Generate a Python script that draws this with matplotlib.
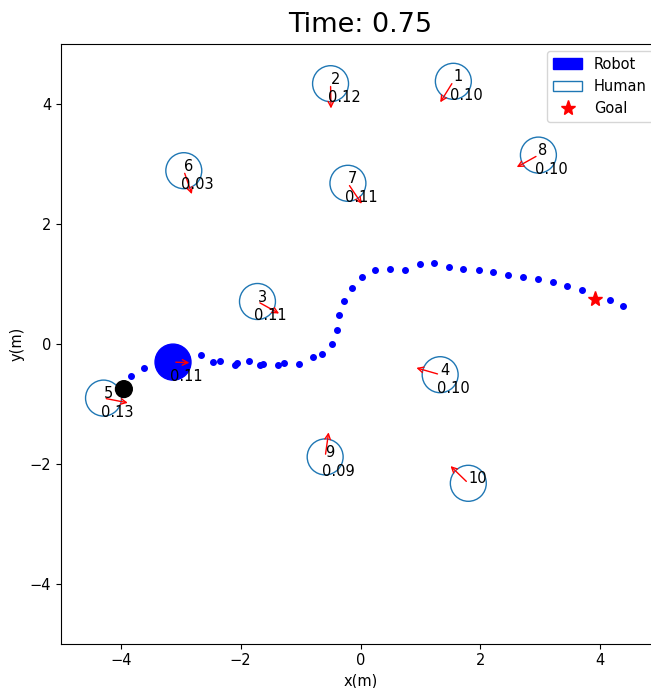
import numpy as np
import matplotlib
matplotlib.use("Agg")
import matplotlib.pyplot as plt
import matplotlib.patches as patches
import matplotlib.lines as mlines

# ── Scene state at t = 0.75 ───────────────────────────────────────────────────
TIME = 0.75

human_x = [1.55, -0.50, -1.72, 1.33, -4.29, -2.95, -0.21, 2.97, -0.59, 1.80]
human_y = [4.37, 4.33, 0.70, -0.52, -0.91, 2.88, 2.67, 3.14, -1.89, -2.33]
human_heading = [-122, -89, -29, 164, -11, -71, -56, -151, 82, 136]   # deg
human_speed = ["0.10", "0.12", "0.11", "0.10", "0.13", "0.03", "0.11", "0.10", "0.09", None]

robot_x, robot_y = -3.13, -0.31
robot_heading = -2
robot_speed = "0.11"

start_x, start_y = -3.95, -0.76
goal_x, goal_y = 3.92, 0.75

path_x = [-3.83, -3.61, -2.66, -2.46, -2.35, -2.10, -2.06, -1.86, -1.67, -1.62,
          -1.37, -1.27, -1.02, -0.80, -0.65, -0.47, -0.385, -0.36, -0.27, -0.15,
          0.02, 0.25, 0.50, 0.75, 0.99, 1.23, 1.48, 1.71, 1.97, 2.22,
          2.47, 2.72, 2.96, 3.21, 3.45, 3.69, 4.17, 4.39]
path_y = [-0.54, -0.41, -0.19, -0.30, -0.29, -0.35, -0.33, -0.29, -0.36, -0.34,
          -0.36, -0.33, -0.34, -0.22, -0.18, -0.01, 0.23, 0.48, 0.71, 0.93,
          1.11, 1.23, 1.25, 1.23, 1.32, 1.34, 1.27, 1.25, 1.23, 1.19,
          1.15, 1.11, 1.07, 1.02, 0.96, 0.89, 0.73, 0.63]

RADIUS = 0.3
ARROW_LEN = 0.46
ROBOT_ARROW_LEN = 0.32
FS = 10.5
# ──────────────────────────────────────────────────────────────────────────────

fig = plt.figure(figsize=(6.51, 6.88), dpi=100)
ax = fig.add_axes([61 / 651, 44.5 / 688, 599 / 651, 600 / 688])
ax.set_xlim(-5, 5)
ax.set_ylim(-5, 5)
ax.set_xticks([-4, -2, 0, 2, 4])
ax.set_yticks([-4, -2, 0, 2, 4])
ax.tick_params(labelsize=FS)
ax.set_xlabel("x(m)", fontsize=FS)
ax.set_ylabel("y(m)", fontsize=FS)
ax.set_title(f"Time: {TIME:.2f}", fontsize=19.5, pad=8)

arrow_style = patches.ArrowStyle("->", head_length=4, head_width=2)

# robot path
ax.plot(path_x, path_y, "o", color="blue", markersize=4, linestyle="None", zorder=2)

start = plt.Circle((start_x, start_y), 0.14, color="black", zorder=4)
ax.add_artist(start)

robot = plt.Circle((robot_x, robot_y), RADIUS, fill=True, color="blue", zorder=3)
ax.add_artist(robot)
th = np.deg2rad(robot_heading)
ax.add_patch(patches.FancyArrowPatch(
    (robot_x, robot_y),
    (robot_x + ROBOT_ARROW_LEN * np.cos(th), robot_y + ROBOT_ARROW_LEN * np.sin(th)),
    color="red", arrowstyle=arrow_style, zorder=5))
ax.text(robot_x - 0.05, robot_y - 0.31, robot_speed, fontsize=FS, color="black", zorder=6)

goal = mlines.Line2D([goal_x], [goal_y], color="red", marker="*", linestyle="None",
                     markersize=11, label="Goal")
ax.add_line(goal)

humans = []
for i, (hx, hy) in enumerate(zip(human_x, human_y)):
    c = plt.Circle((hx, hy), RADIUS, fill=False, color="C0", zorder=3)
    ax.add_artist(c)
    humans.append(c)
    th = np.deg2rad(human_heading[i])
    ax.add_patch(patches.FancyArrowPatch(
        (hx, hy), (hx + ARROW_LEN * np.cos(th), hy + ARROW_LEN * np.sin(th)),
        color="red", arrowstyle=arrow_style, zorder=5))
    ax.text(hx, hy, str(i + 1), fontsize=FS, color="black", zorder=6)
    if human_speed[i] is not None:
        ax.text(hx - 0.05, hy - 0.31, human_speed[i], fontsize=FS, color="black", zorder=6)

ax.legend([robot, humans[0], goal], ["Robot", "Human", "Goal"], fontsize=FS, loc="upper right")

fig.savefig("out.png", dpi=100)
